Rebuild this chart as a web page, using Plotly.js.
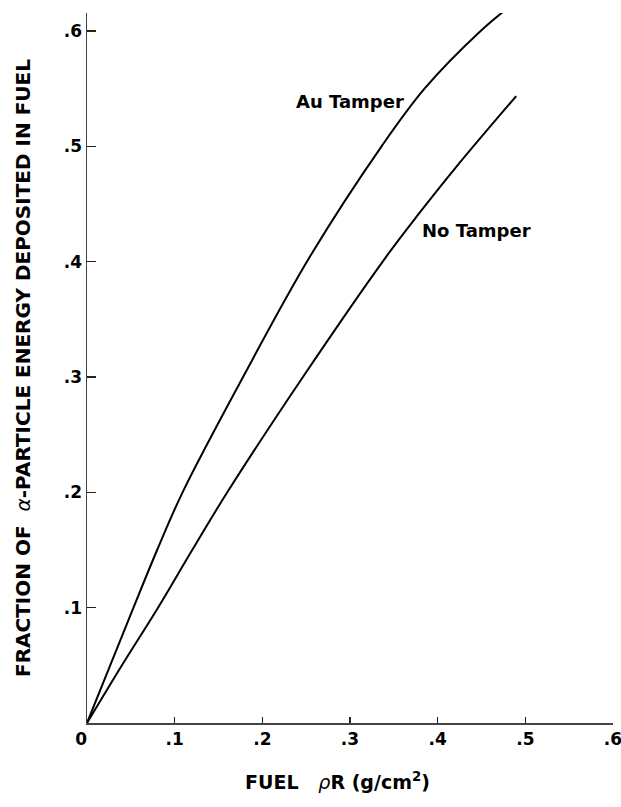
<!DOCTYPE html>
<html>
<head>
<meta charset="utf-8">
<script src="https://cdn.plot.ly/plotly-3.0.1.min.js"></script>
<style>html,body{margin:0;padding:0;background:#fff;}#chart{width:621px;height:807px;}</style>
</head>
<body>
<div id="chart"></div>
<script>
// Fuel rho-R (g/cm^2) vs fraction of alpha-particle energy deposited in fuel
const auTamperX = [0, 0.026, 0.053, 0.080, 0.109, 0.178, 0.254, 0.336, 0.385, 0.449, 0.481];
const auTamperY = [0, 0.049, 0.100, 0.150, 0.200, 0.300, 0.404, 0.500, 0.550, 0.600, 0.6205];
const noTamperX = [0, 0.039, 0.081, 0.120, 0.160, 0.2463, 0.341, 0.379, 0.421, 0.4896];
const noTamperY = [0, 0.049, 0.100, 0.150, 0.200, 0.300, 0.404, 0.442, 0.482, 0.5436];
const xTickVals = [0, 0.1, 0.2, 0.3, 0.4, 0.5, 0.6];
const xTickText = ["0\u00a0\u00a0", ".1", ".2", ".3", ".4", ".5", ".6"];
const yTickVals = [0.1, 0.2, 0.3, 0.4, 0.5, 0.6];
const yTickText = [".1", ".2", ".3", ".4", ".5", ".6"];
const curveLabels = ["Au Tamper", "No Tamper"];
const curveLabelX = [0.300, 0.4444];
const curveLabelY = [0.5387, 0.4266];
const xTitle = "FUEL   <i style='font-weight:normal'>ρ</i>R (g/cm<sup>2</sup>)";
const yTitle = "FRACTION OF  <i style='font-weight:normal'>α</i>-PARTICLE ENERGY DEPOSITED IN FUEL";

const FONT = "DejaVu Sans, Arial, sans-serif";
const lineStyle = {color: "#000", width: 2, shape: "spline", smoothing: 1};

const data = [
  {x: auTamperX, y: auTamperY, mode: "lines", line: lineStyle, name: curveLabels[0], hoverinfo: "x+y"},
  {x: noTamperX, y: noTamperY, mode: "lines", line: lineStyle, name: curveLabels[1], hoverinfo: "x+y"}
];

const annotations = curveLabels.map((t, i) => ({
  x: curveLabelX[i], y: curveLabelY[i], xref: "x", yref: "y",
  text: t, showarrow: false,
  font: {family: FONT, size: 18, color: "#000", weight: "bold"}
}));
annotations.push({
  x: 0.4765, y: 0, xref: "paper", yref: "paper", yanchor: "top", yshift: -44,
  text: xTitle, showarrow: false,
  font: {family: FONT, size: 19, color: "#000", weight: "bold"}
});

const layout = {
  width: 621, height: 807,
  margin: {l: 87, r: 8, t: 13, b: 84},
  paper_bgcolor: "#fff", plot_bgcolor: "#fff",
  showlegend: false,
  font: {family: FONT, size: 18, color: "#000", weight: "bold"},
  xaxis: {
    range: [0, 0.6], showgrid: false, zeroline: false,
    showline: true, linecolor: "#444", linewidth: 1.5,
    ticks: "inside", ticklen: 6, tickwidth: 1.2, tickcolor: "#222",
    tickvals: xTickVals, ticktext: xTickText,
    ticklabeloverflow: "allow",
    tickfont: {family: FONT, size: 17, color: "#000", weight: "bold"}
  },
  yaxis: {
    range: [0, 0.6156], showgrid: false, zeroline: false,
    showline: true, linecolor: "#444", linewidth: 1.5,
    ticks: "inside", ticklen: 9, tickwidth: 1.2, tickcolor: "#222",
    tickvals: yTickVals, ticktext: yTickText,
    tickfont: {family: FONT, size: 17, color: "#000", weight: "bold"},
    title: {text: yTitle, standoff: 28,
            font: {family: FONT, size: 20, color: "#000", weight: "bold"}}
  },
  annotations: annotations
};

Plotly.newPlot("chart", data, layout, {displayModeBar: false, staticPlot: true});
</script>
</body>
</html>
